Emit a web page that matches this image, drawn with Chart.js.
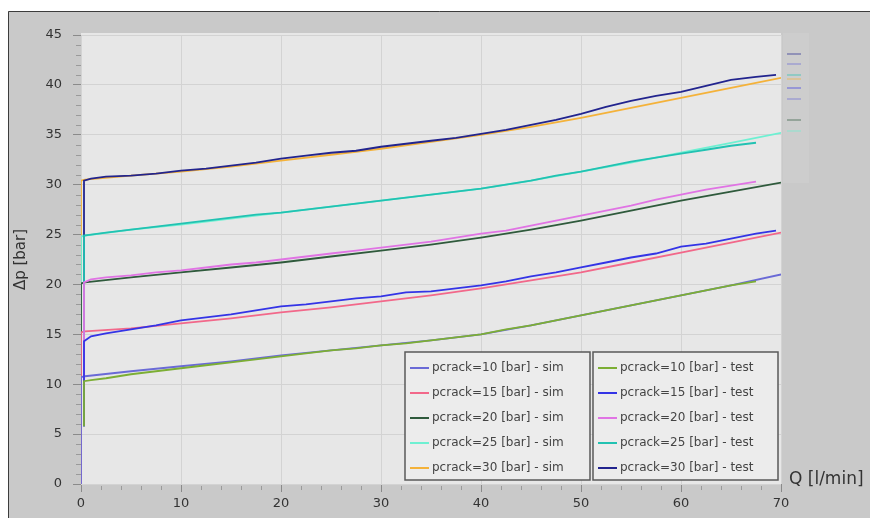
<!DOCTYPE html>
<html>
<head>
<meta charset="utf-8">
<script src="https://cdn.jsdelivr.net/npm/chart.js@4.4.1/dist/chart.umd.min.js"></script>
<style>
  html, body { margin: 0; padding: 0; background: #fff; }
  #wrap { width: 870px; height: 518px; }
</style>
</head>
<body>
<div id="wrap"><canvas id="chart" width="870" height="518"></canvas></div>
<script>
// flow rate Q [l/min] sample points
const qSim = [0, 0, 0.4, 5, 10, 15, 20, 25, 30, 35, 40, 45, 50, 55, 60, 65, 70];
const qTest = [0.3, 0.3, 1, 2.5, 5, 7.5, 10, 12.5, 15, 17.5, 20, 22.5, 25, 27.5, 30, 32.5, 35,
  37.5, 40, 42.5, 45, 47.5, 50, 52.5, 55, 57.5, 60, 62.5, 65, 67.5, 69.5];

// simulation curves, dp [bar]
const sim10 = [0, 10.7, 10.8, 11.3, 11.8, 12.3, 12.9, 13.4, 13.9, 14.4, 15.0, 15.9, 16.9, 17.9, 18.9, 19.9, 21.0];
const sim15 = [0, 15.2, 15.3, 15.6, 16.1, 16.6, 17.2, 17.7, 18.3, 18.9, 19.6, 20.4, 21.2, 22.2, 23.2, 24.2, 25.2];
const sim20 = [0, 20.1, 20.2, 20.7, 21.2, 21.7, 22.2, 22.8, 23.4, 24.0, 24.7, 25.5, 26.4, 27.4, 28.4, 29.3, 30.2];
const sim25 = [0, 24.8, 24.9, 25.5, 26.0, 26.6, 27.2, 27.8, 28.4, 29.0, 29.6, 30.4, 31.3, 32.2, 33.2, 34.2, 35.2];
const sim30 = [0, 30.4, 30.5, 30.9, 31.3, 31.8, 32.4, 33.0, 33.6, 34.3, 35.0, 35.8, 36.7, 37.7, 38.7, 39.7, 40.7];

// test curves, dp [bar]
const test10 = [5.8, 10.3, 10.4, 10.6, 11.0, 11.3, 11.6, 11.9, 12.2, 12.5, 12.8, 13.1, 13.4, 13.6, 13.9, 14.1,
  14.4, 14.7, 15.0, 15.5, 15.9, 16.4, 16.9, 17.4, 17.9, 18.4, 18.9, 19.4, 19.9, 20.3, null];
const test15 = [5.8, 14.3, 14.8, 15.1, 15.5, 15.9, 16.4, 16.7, 17.0, 17.4, 17.8, 18.0, 18.3, 18.6, 18.8, 19.2,
  19.3, 19.6, 19.9, 20.3, 20.8, 21.2, 21.7, 22.2, 22.7, 23.1, 23.8, 24.1, 24.6, 25.1, 25.4];
const test20 = [5.8, 20.2, 20.5, 20.7, 20.9, 21.2, 21.4, 21.7, 22.0, 22.2, 22.5, 22.8, 23.1, 23.4, 23.7, 24.0,
  24.3, 24.7, 25.1, 25.4, 25.9, 26.4, 26.9, 27.4, 27.9, 28.5, 29.0, 29.5, 29.9, 30.3, null];
const test25 = [5.8, 24.9, 25.0, 25.2, 25.5, 25.8, 26.1, 26.4, 26.7, 27.0, 27.2, 27.5, 27.8, 28.1, 28.4, 28.7,
  29.0, 29.3, 29.6, 30.0, 30.4, 30.9, 31.3, 31.8, 32.3, 32.7, 33.1, 33.5, 33.9, 34.2, null];
const test30 = [5.8, 30.4, 30.6, 30.8, 30.9, 31.1, 31.4, 31.6, 31.9, 32.2, 32.6, 32.9, 33.2, 33.4, 33.8, 34.1,
  34.4, 34.7, 35.1, 35.5, 36.0, 36.5, 37.1, 37.8, 38.4, 38.9, 39.3, 39.9, 40.5, 40.8, 41.0];

const simLabels = ["pcrack=10 [bar] - sim", "pcrack=15 [bar] - sim", "pcrack=20 [bar] - sim",
  "pcrack=25 [bar] - sim", "pcrack=30 [bar] - sim"];
const testLabels = ["pcrack=10 [bar] - test", "pcrack=15 [bar] - test", "pcrack=20 [bar] - test",
  "pcrack=25 [bar] - test", "pcrack=30 [bar] - test"];
const simColors = ["#6a6ad6", "#f2688a", "#2f5a3c", "#6ef0d2", "#f4b23a"];
const testColors = ["#7cae34", "#3434e6", "#e074e4", "#22c2b2", "#22248e"];

const toPoints = (xs, ys) => xs.map((x, i) => ({ x: x, y: ys[i] }));

const datasets = [];
[sim10, sim15, sim20, sim25, sim30].forEach((ys, i) => {
  datasets.push({ label: simLabels[i], data: toPoints(qSim, ys), borderColor: simColors[i],
    borderWidth: 1.8, pointRadius: 0, order: 1 });
});
[test10, test15, test20, test25, test30].forEach((ys, i) => {
  datasets.push({ label: testLabels[i], data: toPoints(qTest, ys), borderColor: testColors[i],
    borderWidth: 1.8, pointRadius: 0, order: 0 });
});

const framePlugin = {
  id: "frame",
  beforeDraw(chart) {
    const { ctx, chartArea: a } = chart;
    ctx.save();
    ctx.fillStyle = "#ffffff";
    ctx.fillRect(0, 0, 870, 518);
    ctx.fillStyle = "#c9c9c9";
    ctx.fillRect(8, 11, 862, 507);
    ctx.strokeStyle = "#3c3c3c";
    ctx.lineWidth = 1;
    ctx.beginPath();
    ctx.moveTo(8.5, 518);
    ctx.lineTo(8.5, 11.5);
    ctx.lineTo(870, 11.5);
    ctx.stroke();
    ctx.fillStyle = "#e7e7e7";
    ctx.fillRect(a.left, a.top - 2, a.right - a.left, a.bottom - a.top + 2);
    // faint strip right of the plot with small series marks
    ctx.fillStyle = "#cdcdcd";
    ctx.fillRect(a.right + 2, a.top - 2, 26, 150);
    const marks = [[9, 53], [0, 63], [8, 74], [4, 78], [6, 87], [0, 98], [2, 119], [3, 130]];
    ctx.globalAlpha = 0.35;
    marks.forEach(m => {
      ctx.fillStyle = chart.data.datasets[m[0]].borderColor;
      ctx.fillRect(a.right + 6, m[1], 14, 2);
    });
    ctx.restore();
  },
  afterDraw(chart) {
    const { ctx, chartArea: a, scales } = chart;
    ctx.save();
    // minor ticks
    ctx.strokeStyle = "#9a9a9a";
    ctx.lineWidth = 1;
    ctx.beginPath();
    for (let v = 1; v < 45; v++) {
      if (v % 5 === 0) continue;
      const y = Math.round(scales.y.getPixelForValue(v)) + 0.5;
      ctx.moveTo(a.left - 5, y);
      ctx.lineTo(a.left, y);
    }
    for (let v = 2; v < 70; v += 2) {
      if (v % 10 === 0) continue;
      const x = Math.round(scales.x.getPixelForValue(v)) + 0.5;
      ctx.moveTo(x, a.bottom + 2);
      ctx.lineTo(x, a.bottom + 6);
    }
    ctx.stroke();

    // x axis title at the right end
    ctx.fillStyle = "#333";
    ctx.font = "17px 'DejaVu Sans'";
    ctx.textAlign = "left";
    ctx.textBaseline = "middle";
    ctx.fillText("Q [l/min]", 789, 480);

    // two-column legend boxes
    const boxes = [{ left: 405, right: 590, first: 0 }, { left: 593, right: 778, first: 5 }];
    const top = 352, bottom = 480, rowGap = 25;
    ctx.font = "12px 'DejaVu Sans'";
    boxes.forEach(b => {
      ctx.fillStyle = "#ececec";
      ctx.fillRect(b.left, top, b.right - b.left, bottom - top);
      ctx.strokeStyle = "#5a5a5a";
      ctx.lineWidth = 1.5;
      ctx.strokeRect(b.left, top, b.right - b.left, bottom - top);
      for (let i = 0; i < 5; i++) {
        const ds = chart.data.datasets[b.first + i];
        const y = top + 16 + i * rowGap;
        ctx.strokeStyle = ds.borderColor;
        ctx.lineWidth = 2;
        ctx.beginPath();
        ctx.moveTo(b.left + 5, y);
        ctx.lineTo(b.left + 24, y);
        ctx.stroke();
        ctx.fillStyle = "#444";
        ctx.fillText(ds.label, b.left + 27, y);
      }
    });
    ctx.restore();
  }
};

new Chart(document.getElementById("chart"), {
  type: "line",
  data: { datasets: datasets },
  options: {
    responsive: false,
    animation: false,
    layout: { padding: { top: 35, right: 89, left: 0, bottom: 0 } },
    plugins: { legend: { display: false }, tooltip: { enabled: false } },
    elements: { line: { tension: 0 } },
    scales: {
      x: {
        type: "linear",
        min: 0,
        max: 70,
        afterFit: (s) => { s.height = 34; },
        ticks: { stepSize: 10, color: "#333", padding: 4, font: { family: "DejaVu Sans", size: 13 } },
        grid: { color: "#d3d3d3", tickColor: "#8a8a8a", tickLength: 8, drawTicks: true },
        border: { display: false }
      },
      y: {
        min: 0,
        max: 45,
        afterFit: (s) => { s.width = 81; },
        ticks: { stepSize: 5, color: "#333", padding: 11, font: { family: "DejaVu Sans", size: 13 } },
        grid: { color: "#d3d3d3", tickColor: "#8a8a8a", tickLength: 8 },
        border: { display: false },
        title: { display: true, text: "Δp [bar]", color: "#333", padding: { top: 12, bottom: 0 },
          font: { family: "DejaVu Sans", size: 15 } }
      }
    }
  },
  plugins: [framePlugin]
});
</script>
</body>
</html>
